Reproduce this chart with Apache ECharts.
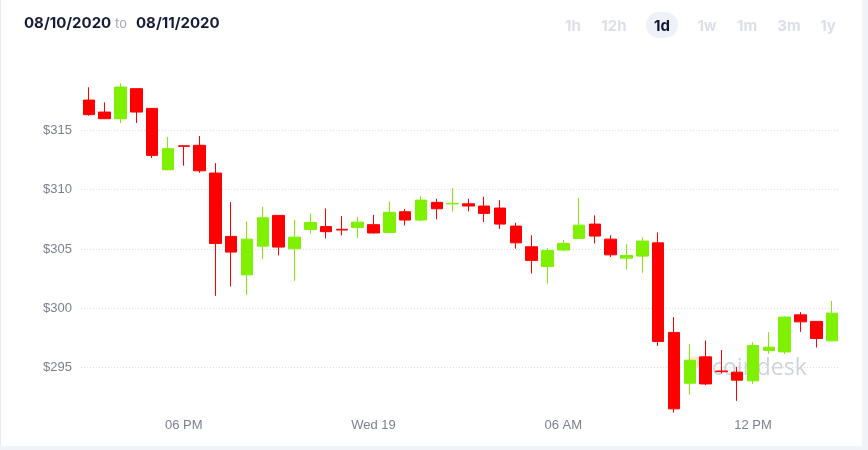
<!DOCTYPE html>
<html>
<head>
<meta charset="utf-8">
<script src="https://cdn.jsdelivr.net/npm/echarts@6/dist/echarts.min.js"></script>
<style>
    html, body { margin: 0; padding: 0; background: #f0f4f8; }
    #card { position: absolute; left: 0; top: 0; width: 861px; height: 446px; background: #fff; border-left: 1px solid #e6ebf1; }
    #chart { position: absolute; left: 0; top: 0; width: 868px; height: 450px; }
</style>
</head>
<body>
<div id="card"></div>
<div id="chart"></div>
<script>
// 30 minute candles, 15:00 -> 14:30
const times = [
    '15:00', '15:30', '16:00', '16:30', '17:00', '17:30', '18:00', '18:30',
    '19:00', '19:30', '20:00', '20:30', '21:00', '21:30', '22:00', '22:30',
    '23:00', '23:30', '00:00', '00:30', '01:00', '01:30', '02:00', '02:30',
    '03:00', '03:30', '04:00', '04:30', '05:00', '05:30', '06:00', '06:30',
    '07:00', '07:30', '08:00', '08:30', '09:00', '09:30', '10:00', '10:30',
    '11:00', '11:30', '12:00', '12:30', '13:00', '13:30', '14:00', '14:30'
];

const opens = [
    317.55, 316.54, 315.98, 318.51, 316.85, 311.68, 313.70, 313.74,
    311.40, 306.06, 302.82, 305.24, 307.83, 305.02, 306.65, 306.89,
    306.66, 306.82, 307.05, 306.40, 308.14, 307.44, 308.93, 308.80,
    308.81, 308.62, 308.45, 306.93, 305.19, 303.53, 304.91, 305.89,
    307.10, 305.83, 304.23, 304.40, 305.52, 297.97, 293.69, 295.91,
    294.72, 294.62, 293.89, 296.45, 296.33, 299.45, 298.90, 297.26
];
const closes = [
    316.32, 315.98, 318.65, 316.54, 312.89, 313.45, 313.65, 311.59,
    305.47, 304.74, 305.83, 307.63, 305.16, 306.00, 307.24, 306.46,
    306.60, 307.26, 306.35, 308.09, 307.44, 309.12, 308.39, 308.85,
    308.62, 308.00, 307.10, 305.52, 304.04, 304.88, 305.47, 307.01,
    306.09, 304.51, 304.46, 305.67, 297.21, 291.53, 295.63, 293.63,
    294.66, 293.95, 296.87, 296.73, 299.26, 298.86, 297.46, 299.59
];
const lows = [
    316.23, 315.95, 315.62, 315.62, 312.66, 311.63, 312.02, 311.42,
    301.05, 301.85, 301.14, 304.15, 304.46, 302.32, 306.28, 305.89,
    306.15, 305.94, 306.30, 306.37, 306.99, 307.33, 307.50, 308.17,
    308.17, 307.27, 306.70, 305.02, 302.94, 302.10, 304.80, 305.86,
    305.47, 304.32, 303.28, 302.99, 296.84, 291.22, 292.74, 293.52,
    294.51, 292.20, 293.63, 296.16, 296.16, 298.02, 296.70, 297.24
];
const highs = [
    318.63, 317.36, 318.96, 318.54, 316.87, 314.44, 313.72, 314.52,
    312.24, 308.95, 307.35, 308.56, 307.85, 307.44, 308.00, 308.42,
    307.77, 307.69, 307.88, 309.01, 308.37, 309.46, 309.23, 310.13,
    309.23, 309.40, 309.12, 307.21, 306.16, 305.08, 305.75, 309.32,
    307.83, 306.15, 305.41, 306.00, 306.40, 299.26, 296.98, 297.29,
    296.48, 295.07, 297.15, 297.99, 299.34, 299.68, 298.92, 300.63
];

const tickLabels = { '18:00': '06 PM', '00:00': 'Wed 19', '06:00': '06 AM', '12:00': '12 PM' };
const ranges = ['1h', '12h', '1d', '1w', '1m', '3m', '1y'];
const rangeX = [573, 614, 662, 707, 747, 789, 828];
const activeRange = '1d';

const UP = '#7ff000';
const DOWN = '#ff0000';
const GRID_COLOR = '#dadee8';

const chart = echarts.init(document.getElementById('chart'));

// header: date span + range buttons
const header = [
    { type: 'text', left: 24, top: 16, style: { text: '08/10/2020', fill: '#171b3a', font: 'bold 15px Inter' } },
    { type: 'text', left: 115, top: 18, style: { text: 'to', fill: '#a7aab8', font: '13px Inter' } },
    { type: 'text', left: 136, top: 16, style: { text: '08/11/2020', fill: '#171b3a', font: 'bold 15px Inter' } },
    { type: 'rect', shape: { x: 646, y: 12, width: 32, height: 26, r: 13 }, style: { fill: '#eef2f8' } }
];
ranges.forEach((r, i) => {
    header.push({
        type: 'text',
        x: rangeX[i], y: 26,
        style: {
            text: r,
            fill: r === activeRange ? '#141833' : '#dcdfe8',
            font: 'bold 15px Inter',
            align: 'center',
            verticalAlign: 'middle'
        }
    });
});

// faint coindesk watermark
const watermark = [
    { type: 'circle', shape: { cx: 694, cy: 362, r: 6 }, style: { fill: 'rgba(255,190,80,0.3)' } },
    { type: 'circle', shape: { cx: 705, cy: 362, r: 6 }, style: { fill: 'rgba(255,170,60,0.3)' } },
    { type: 'text', x: 712, y: 368, style: { text: 'coindesk', fill: 'rgba(120,126,146,0.35)', font: '23px "Open Sans"', verticalAlign: 'middle' } }
];

const option = {
    animation: false,
    graphic: header.concat(watermark),
    grid: { left: 81, right: 28, top: 71, height: 356 },
    xAxis: {
        type: 'category',
        data: times,
        boundaryGap: true,
        axisLine: { show: false },
        axisTick: { show: false },
        splitLine: { show: false },
        axisLabel: {
            interval: (idx, val) => tickLabels[val] !== undefined,
            formatter: val => tickLabels[val] || '',
            color: '#7c808b',
            fontSize: 13,
            fontFamily: 'Liberation Sans',
            margin: -8
        }
    },
    yAxis: {
        type: 'value',
        min: 290,
        max: 320,
        interval: 5,
        axisLine: { show: false },
        axisTick: { show: false },
        axisLabel: {
            showMinLabel: false,
            showMaxLabel: false,
            formatter: v => '$' + v,
            color: '#7c808b',
            fontSize: 13,
            fontFamily: 'Liberation Sans',
            margin: 9
        },
        splitLine: {
            lineStyle: {
                type: [1, 2],
                color: ['transparent', GRID_COLOR, GRID_COLOR, GRID_COLOR, GRID_COLOR, GRID_COLOR, 'transparent']
            }
        }
    },
    series: [{
        type: 'candlestick',
        barWidth: 12,
        data: times.map((t, i) => [opens[i], closes[i], lows[i], highs[i]]),
        itemStyle: {
            color: UP,
            color0: DOWN,
            borderColor: UP,
            borderColor0: DOWN,
            borderWidth: 1
        }
    }]
};

chart.setOption(option);
</script>
</body>
</html>
